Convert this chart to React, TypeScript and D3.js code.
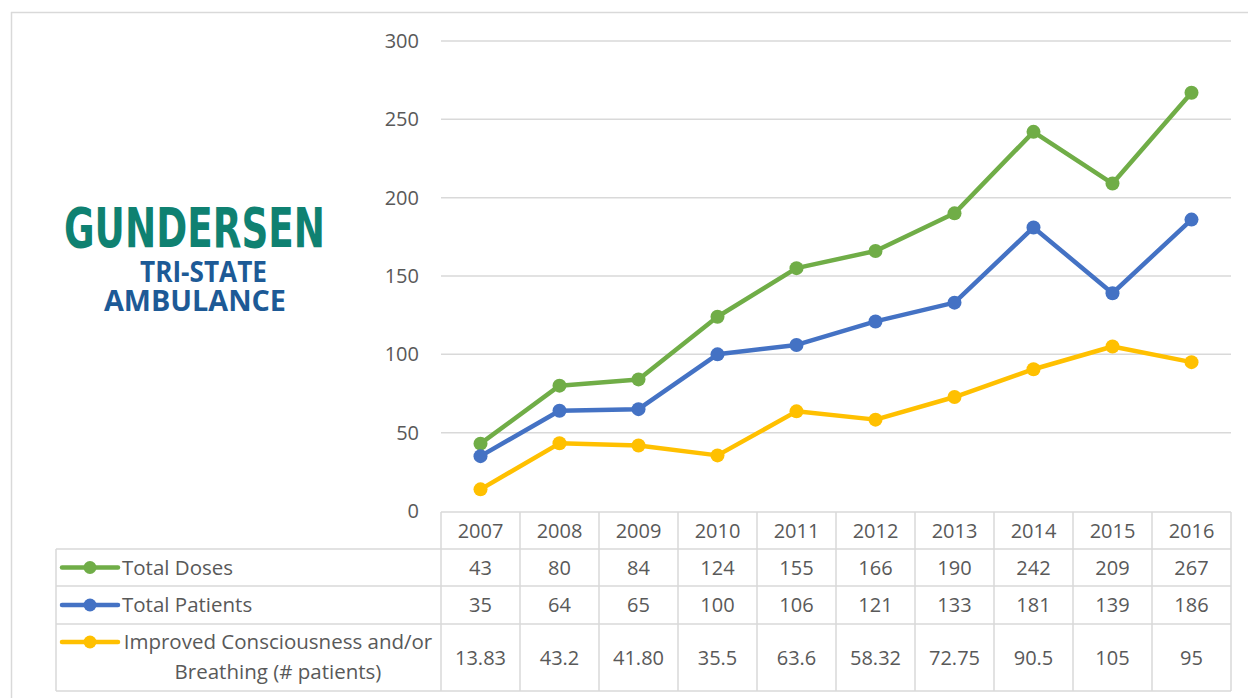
import React from "react";
import * as d3 from "d3";

const years = ["2007", "2008", "2009", "2010", "2011", "2012", "2013", "2014", "2015", "2016"];
const totalDoses = [43, 80, 84, 124, 155, 166, 190, 242, 209, 267];
const totalPatients = [35, 64, 65, 100, 106, 121, 133, 181, 139, 186];
const improved = [13.83, 43.2, 41.8, 35.5, 63.6, 58.32, 72.75, 90.5, 105, 95];
const totalDosesLabels = ["43", "80", "84", "124", "155", "166", "190", "242", "209", "267"];
const totalPatientsLabels = ["35", "64", "65", "100", "106", "121", "133", "181", "139", "186"];
const improvedLabels = ["13.83", "43.2", "41.80", "35.5", "63.6", "58.32", "72.75", "90.5", "105", "95"];
const yTicks = [0, 50, 100, 150, 200, 250, 300];

const W = 1248;
const H = 698;
const FONT = "'Open Sans', sans-serif";
const TEXT = "#595959";
const GRID = "#d9d9d9";
const NUM_SIZE = 20;
const LABEL_SIZE = 20.5;
const LOGO_SY = 1.28;

export default function App() {
  const left = 441;
  const right = 1231;
  const x = d3.scaleBand<string>().domain(years).range([left, right]);
  const y = d3.scaleLinear().domain([0, 300]).range([511, 41]);
  const cx = (i: number) => (x(years[i]) as number) + x.bandwidth() / 2;
  const line = d3
    .line<number>()
    .x((_, i) => cx(i))
    .y((d) => y(d));

  const series = [
    { name: "Total Doses", values: totalDoses, labels: totalDosesLabels, color: "#70AD47" },
    { name: "Total Patients", values: totalPatients, labels: totalPatientsLabels, color: "#4472C4" },
    { name: "Improved", values: improved, labels: improvedLabels, color: "#FFC000" },
  ];

  const rowTop = [512, 549, 586, 624];
  const rowBottom = 691;
  const tableLeft = 56;

  return (
    <svg width={W} height={H} style={{ position: "absolute", left: 0, top: 0, background: "#fff" }}>
      <rect x={0} y={0} width={W} height={H} fill="#fff" />
      {/* outer frame */}
      <line x1={11} y1={12.5} x2={W} y2={12.5} stroke={GRID} strokeWidth={1.5} />
      <line x1={11.5} y1={12} x2={11.5} y2={H} stroke={GRID} strokeWidth={1.5} />

      {/* logo */}
      <g transform={`scale(1,${LOGO_SY})`}>
        <text fontWeight="bold">
          <tspan
            x={64}
            y={247 / LOGO_SY}
            fontFamily="'DejaVu Sans Condensed', 'Liberation Sans Narrow', sans-serif"
            fontSize={43}
            fill="#0F8171"
            textLength={261}
            lengthAdjust="spacingAndGlyphs"
          >
            GUNDERSEN
          </tspan>
          <tspan
            x={140}
            y={282 / LOGO_SY}
            fontFamily="'Open Sans', sans-serif"
            fontSize={22}
            fill="#1D5A96"
            textLength={127}
            lengthAdjust="spacingAndGlyphs"
          >
            TRI-STATE
          </tspan>
          <tspan
            x={104}
            y={311 / LOGO_SY}
            fontFamily="'Open Sans', sans-serif"
            fontSize={22}
            fill="#1D5A96"
            textLength={182}
            lengthAdjust="spacingAndGlyphs"
          >
            AMBULANCE
          </tspan>
        </text>
      </g>

      {/* gridlines */}
      {yTicks.slice(1).map((t) => (
        <line key={t} x1={left} x2={right} y1={y(t)} y2={y(t)} stroke={GRID} strokeWidth={1.5} />
      ))}
      {yTicks.map((t) => (
        <text key={t} x={419} y={y(t)} dy="0.35em" textAnchor="end" fontFamily={FONT} fontSize={NUM_SIZE} fill={TEXT}>
          {t}
        </text>
      ))}

      {/* table */}
      <g stroke={GRID} strokeWidth={1.5}>
        <line x1={left} x2={right} y1={rowTop[0]} y2={rowTop[0]} />
        {rowTop.slice(1).map((r) => (
          <line key={r} x1={tableLeft} x2={right} y1={r} y2={r} />
        ))}
        <line x1={tableLeft} x2={right} y1={rowBottom} y2={rowBottom} />
        <line x1={tableLeft} x2={tableLeft} y1={rowTop[1]} y2={rowBottom} />
        {years.map((yr) => (
          <line key={yr} x1={x(yr) as number} x2={x(yr) as number} y1={rowTop[0]} y2={rowBottom} />
        ))}
        <line x1={right} x2={right} y1={rowTop[0]} y2={rowBottom} />
      </g>
      {years.map((yr, i) => (
        <text
          key={yr}
          x={cx(i)}
          y={(rowTop[0] + rowTop[1]) / 2}
          dy="0.35em"
          textAnchor="middle"
          fontFamily={FONT}
          fontSize={NUM_SIZE}
          fill={TEXT}
        >
          {yr}
        </text>
      ))}
      {series.map((s, si) => {
        const top = rowTop[si + 1];
        const bottom = si + 2 < rowTop.length ? rowTop[si + 2] : rowBottom;
        const cy = (top + bottom) / 2;
        const legendY = si === 2 ? 642 : cy;
        return (
          <g key={s.name}>
            <line x1={62} x2={118} y1={legendY} y2={legendY} stroke={s.color} strokeWidth={4.5} strokeLinecap="round" />
            <circle cx={90} cy={legendY} r={6.5} fill={s.color} />
            {si < 2 ? (
              <text x={122} y={cy} dy="0.35em" fontFamily={FONT} fontSize={LABEL_SIZE} fill={TEXT}>
                {s.name}
              </text>
            ) : (
              <text fontFamily={FONT} fontSize={LABEL_SIZE} fill={TEXT} textAnchor="middle">
                <tspan x={278} y={642} dy="0.35em">Improved Consciousness and/or</tspan>
                <tspan x={278} y={672} dy="0.35em">Breathing (# patients)</tspan>
              </text>
            )}
            {s.labels.map((lab, i) => (
              <text
                key={i}
                x={cx(i)}
                y={cy}
                dy="0.35em"
                textAnchor="middle"
                fontFamily={FONT}
                fontSize={NUM_SIZE}
                fill={TEXT}
              >
                {lab}
              </text>
            ))}
          </g>
        );
      })}

      {/* lines */}
      {series.map((s) => (
        <g key={s.name}>
          <path d={line(s.values) as string} fill="none" stroke={s.color} strokeWidth={4.5} strokeLinejoin="round" />
          {s.values.map((v, i) => (
            <circle key={i} cx={cx(i)} cy={y(v)} r={7} fill={s.color} />
          ))}
        </g>
      ))}
    </svg>
  );
}
